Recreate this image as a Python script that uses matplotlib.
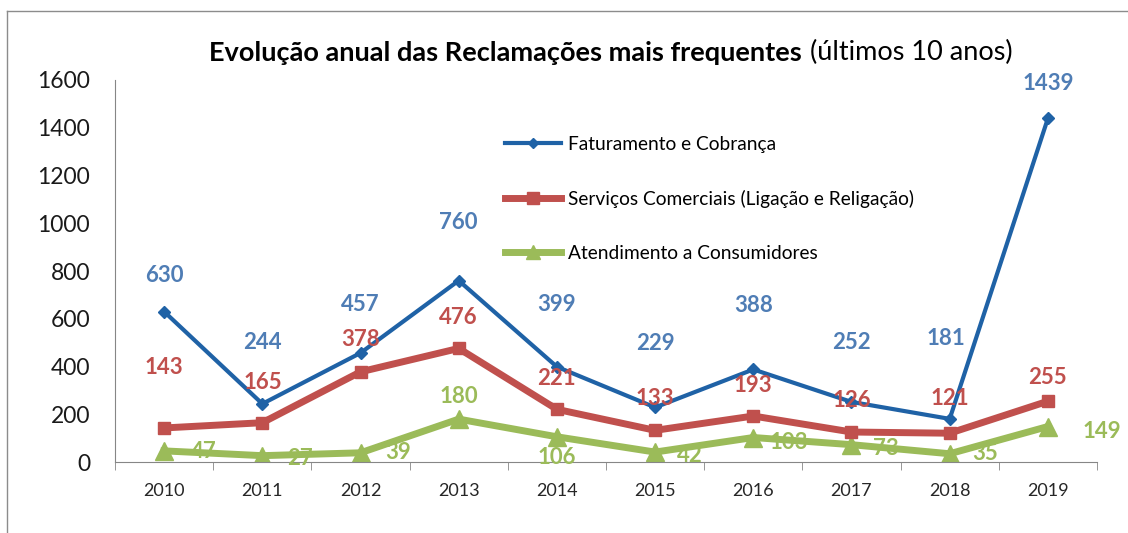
import matplotlib
matplotlib.use("Agg")
import matplotlib.pyplot as plt
from matplotlib.lines import Line2D

years = ["2010", "2011", "2012", "2013", "2014", "2015", "2016", "2017", "2018", "2019"]
faturamento = [630, 244, 457, 760, 399, 229, 388, 252, 181, 1439]
servicos = [143, 165, 378, 476, 221, 133, 193, 126, 121, 255]
atendimento = [47, 27, 39, 180, 106, 42, 103, 73, 35, 149]

labels = ["Faturamento e Cobrança",
          "Serviços Comerciais (Ligação e Religação)",
          "Atendimento a Consumidores"]

# label offsets in pixels (dx, dy) for each point
off_fat = [(0, 36), (0, 61), (0, 48), (0, 58), (0, 62), (0, 64), (0, 64), (0, 59), (-4, 80), (0, 35)]
off_ser = [(0, 60), (0, 40), (0, 32), (0, 31), (0, 31), (0, 32), (0, 31), (0, 32), (0, 35), (0, 24)]
off_ate = [(40, -1), (38, -3), (38, 0), (0, 23), (0, -21), (35, -3), (35, -5), (34, -4), (35, 0), (54, -5)]

c_blue, c_blue_lbl = "#1F62A6", "#4F7DB5"
c_red = "#C0504D"
c_green = "#9BBB59"

plt.rcParams["font.family"] = ["Lato", "DejaVu Sans"]

fig = plt.figure(figsize=(11.28, 5.33), dpi=100)
ax = fig.add_axes([0.102, 0.133, 0.8705, 0.717])

x = list(range(len(years)))
ax.plot(x, faturamento, color=c_blue, lw=3, marker="D", ms=6, label=labels[0], zorder=3)
ax.plot(x, servicos, color=c_red, lw=5, marker="s", ms=9, label=labels[1], zorder=2)
ax.plot(x, atendimento, color=c_green, lw=5, marker="^", ms=13, label=labels[2], zorder=1)

for vals, offs, col in [(faturamento, off_fat, c_blue_lbl), (servicos, off_ser, c_red), (atendimento, off_ate, c_green)]:
    for i, v in enumerate(vals):
        ax.annotate(str(v), (i, v), xytext=offs[i], textcoords="offset pixels",
                    ha="center", va="center", fontsize=16, fontweight="bold", color=col, zorder=5)

ax.set_xlim(-0.5, 9.5)
ax.set_ylim(0, 1600)
ax.set_yticks(range(0, 1601, 200))
ax.set_xticks(x)
ax.set_xticklabels(years)
ax.set_xticks([i + 0.5 for i in range(-1, 10)], minor=True)
ax.tick_params(axis="x", which="major", length=0, labelsize=13, pad=15, labelcolor="#262626")
ax.tick_params(axis="x", which="minor", length=6, color="#868686", direction="out")
ax.tick_params(axis="y", length=0, labelsize=16.5, pad=18, labelcolor="#1a1a1a")
for s in ["top", "right"]:
    ax.spines[s].set_visible(False)
ax.spines["left"].set_color("#868686")
ax.spines["bottom"].set_color("#868686")

handles = [Line2D([], [], color=c_blue, lw=3, marker="D", ms=5),
           Line2D([], [], color=c_red, lw=5, marker="s", ms=8),
           Line2D([], [], color=c_green, lw=5, marker="^", ms=10)]
ax.legend(handles, labels, loc="upper left", bbox_to_anchor=(0.4477, 0.745),
          bbox_transform=fig.transFigure, frameon=False, borderpad=0, borderaxespad=0,
          fontsize=13.8, handlelength=2.9, labelspacing=1.92, handletextpad=0.4)

# title: bold part + normal part
t1 = fig.text(0.185, 0.9015, "Evolução anual das Reclamações mais frequentes", fontsize=19.5,
              fontweight="bold", ha="left", va="center", color="#000000")
fig.canvas.draw()
bb = t1.get_window_extent()
fig.text((bb.x1 + 9) / fig.bbox.width, 0.9015, "(últimos 10 anos)", fontsize=19.5,
         ha="left", va="center", color="#000000")

# outer frame
fig.add_artist(Line2D([0.006, 1.0], [0.979, 0.979], color="#8c8c8c", lw=1, transform=fig.transFigure))
fig.add_artist(Line2D([0.006, 0.006], [0.0, 0.979], color="#8c8c8c", lw=1, transform=fig.transFigure))

fig.savefig("out.png", dpi=100)
